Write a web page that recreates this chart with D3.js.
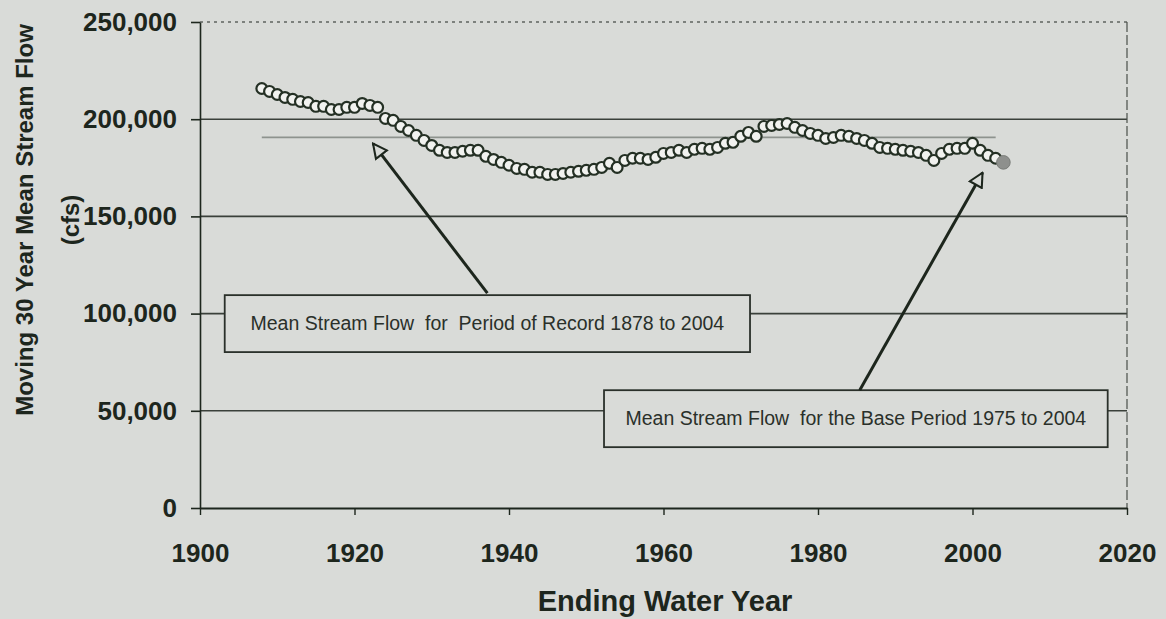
<!DOCTYPE html>
<html>
<head>
<meta charset="utf-8">
<script src="https://cdn.jsdelivr.net/npm/d3@7"></script>
<style>
  body { margin: 0; background: #d9dbd8; }
  svg { display: block; font-family: "Liberation Sans", Arial, sans-serif; }
</style>
</head>
<body>
<div id="chart"></div>
<script>
// Moving 30 year mean stream flow, one point per ending water year (1908-2003)
const years = d3.range(1908, 2004);
const flows = [
  215800, 214300, 212700, 211200, 210200, 209100, 208600, 206600, 206600, 205000,
  205000, 206100, 206100, 208100, 207100, 206100, 200400, 199400, 196300, 194200,
  191700, 189100, 186500, 184000, 182900, 182900, 183500, 184000, 184000, 180900,
  179300, 177800, 176300, 174700, 174200, 172700, 172700, 171600, 171600, 172100,
  172700, 173200, 173700, 174200, 175200, 177300, 175200, 178800, 179900, 179900,
  179300, 180400, 182400, 182900, 184000, 182900, 184500, 185000, 184500, 185500,
  187600, 188100, 191200, 193200, 191200, 196300, 196800, 197300, 197800, 195800,
  194200, 192700, 191700, 190100, 190600, 191700, 191200, 190100, 189100, 187600,
  185500, 185000, 184500, 184000, 183500, 182900, 181400, 178800, 182400, 184500,
  185000, 185000, 187600, 184000, 181400, 179900
];

// base period (1975-2004) point, drawn grey
const baseYear = 2004;
const baseFlow = 177800;

// mean for the period of record
const recordMean = 190600;
const recordSpan = [1908, 2003];

const xTicks = [1900, 1920, 1940, 1960, 1980, 2000, 2020];
const yTicks = [0, 50000, 100000, 150000, 200000, 250000];

// annotations in data units: box [x0, x1, yTop, yBottom], arrow [tailX, tailY, tipX, tipY]
const notes = [
  { text: "Mean Stream Flow  for  Period of Record 1878 to 2004",
    box: [1903.2, 1971.2, 109500, 80200], arrow: [1937.2, 110500, 1922.4, 187400] },
  { text: "Mean Stream Flow  for the Base Period 1975 to 2004",
    box: [1952.3, 2017.5, 60600, 31300], arrow: [1985.4, 60600, 2001.3, 172500] }
];

const margin = { top: 22, right: 39, bottom: 111, left: 200 },
      width = 1166 - margin.left - margin.right,
      height = 619 - margin.top - margin.bottom;

const ink = "#1d261d";
const bg = "#d9dbd8";

const svgRoot = d3.select("#chart").append("svg")
    .attr("width", 1166)
    .attr("height", 619);

svgRoot.append("rect")
    .attr("width", 1166)
    .attr("height", 619)
    .attr("fill", bg);

const defs = svgRoot.append("defs");
defs.append("marker")
    .attr("id", "head")
    .attr("viewBox", "0 0 12 12")
    .attr("refX", 11)
    .attr("refY", 6)
    .attr("markerWidth", 5.5)
    .attr("markerHeight", 5.5)
    .attr("markerUnits", "strokeWidth")
    .attr("orient", "auto")
  .append("path")
    .attr("d", "M1,1 L11,6 L1,11 Z")
    .attr("fill", bg)
    .attr("stroke", ink)
    .attr("stroke-width", 1.5)
    .attr("stroke-linejoin", "miter");

const svg = svgRoot.append("g")
    .attr("transform", `translate(${margin.left},${margin.top})`);

const x = d3.scaleLinear().domain([1900, 2020]).range([0, width]);
const y = d3.scaleLinear().domain([0, 250000]).range([height, 0]);

// gridlines
svg.append("g")
  .selectAll("line")
  .data(yTicks.filter(d => d > 0 && d < 250000))
  .join("line")
    .attr("x1", 0)
    .attr("x2", width)
    .attr("y1", d => y(d))
    .attr("y2", d => y(d))
    .attr("stroke", "#3a403a")
    .attr("stroke-width", 1.6);

// top and right frame
svg.append("line")
    .attr("x1", 0).attr("x2", width)
    .attr("y1", y(250000)).attr("y2", y(250000))
    .attr("stroke", "#5f645f")
    .attr("stroke-width", 1.3)
    .attr("stroke-dasharray", "3,4");
svg.append("line")
    .attr("x1", width).attr("x2", width)
    .attr("y1", y(250000)).attr("y2", y(0))
    .attr("stroke", "#4a4f4a")
    .attr("stroke-width", 1.2)
    .attr("stroke-dasharray", "10,3");

// mean of period of record
svg.append("line")
    .attr("x1", x(recordSpan[0]))
    .attr("x2", x(recordSpan[1]))
    .attr("y1", y(recordMean))
    .attr("y2", y(recordMean))
    .attr("stroke", "#8e938e")
    .attr("stroke-width", 1.8);

// annotation boxes
const note = svg.append("g").selectAll("g")
  .data(notes)
  .join("g");

note.append("rect")
    .attr("x", d => x(d.box[0]))
    .attr("y", d => y(d.box[2]))
    .attr("width", d => x(d.box[1]) - x(d.box[0]))
    .attr("height", d => y(d.box[3]) - y(d.box[2]))
    .attr("fill", bg)
    .attr("stroke", "#2a302a")
    .attr("stroke-width", 1.8);

note.append("text")
    .attr("x", d => (x(d.box[0]) + x(d.box[1])) / 2)
    .attr("y", d => (y(d.box[2]) + y(d.box[3])) / 2)
    .attr("dy", "0.35em")
    .attr("text-anchor", "middle")
    .attr("font-size", 19.5)
    .attr("fill", "#2a302a")
    .attr("xml:space", "preserve")
    .text(d => d.text);

// data points
svg.append("g")
  .selectAll("circle")
  .data(years.map((yr, i) => ({ year: yr, flow: flows[i] })))
  .join("circle")
    .attr("cx", d => x(d.year))
    .attr("cy", d => y(d.flow))
    .attr("r", 5.4)
    .attr("fill", "#f1f2ef")
    .attr("stroke", "#243024")
    .attr("stroke-width", 2.2);

svg.append("circle")
    .attr("cx", x(baseYear))
    .attr("cy", y(baseFlow))
    .attr("r", 6.8)
    .attr("fill", "#8e908d")
    .attr("stroke", "#7a7d79")
    .attr("stroke-width", 1);

// arrows
note.append("line")
    .attr("x1", d => x(d.arrow[0]))
    .attr("y1", d => y(d.arrow[1]))
    .attr("x2", d => x(d.arrow[2]))
    .attr("y2", d => y(d.arrow[3]))
    .attr("stroke", ink)
    .attr("stroke-width", 3)
    .attr("marker-end", "url(#head)");

// axes
const yAxis = svg.append("g")
    .call(d3.axisLeft(y).tickValues(yTicks).tickSize(9).tickSizeOuter(0).tickFormat(d3.format(",")));
yAxis.select(".domain").attr("stroke", ink).attr("stroke-width", 1.6);
yAxis.selectAll(".tick line").attr("stroke", ink).attr("stroke-width", 1.6);
yAxis.selectAll(".tick text")
    .attr("x", -23)
    .attr("fill", ink)
    .attr("font-size", 26)
    .attr("font-weight", "bold")
    .attr("font-family", "\"Liberation Sans\", Arial, sans-serif");

const xAxis = svg.append("g")
    .attr("transform", `translate(0,${height})`)
    .call(d3.axisBottom(x).tickValues(xTicks).tickSize(7).tickSizeOuter(0).tickFormat(d3.format("d")));
xAxis.select(".domain").attr("stroke", ink).attr("stroke-width", 2);
xAxis.selectAll(".tick line").attr("stroke", ink).attr("stroke-width", 1.4);
xAxis.selectAll(".tick text")
    .attr("y", 36)
    .attr("fill", ink)
    .attr("font-size", 26)
    .attr("font-weight", "bold")
    .attr("font-family", "\"Liberation Sans\", Arial, sans-serif");

// axis titles
svgRoot.append("text")
    .attr("transform", "translate(33,220) rotate(-90)")
    .attr("text-anchor", "middle")
    .attr("font-size", 24)
    .attr("font-weight", "bold")
    .attr("fill", ink)
    .text("Moving 30 Year Mean Stream Flow");

svgRoot.append("text")
    .attr("transform", "translate(79,220) rotate(-90)")
    .attr("text-anchor", "middle")
    .attr("font-size", 24)
    .attr("font-weight", "bold")
    .attr("fill", ink)
    .text("(cfs)");

svgRoot.append("text")
    .attr("x", 665)
    .attr("y", 611)
    .attr("text-anchor", "middle")
    .attr("font-size", 29)
    .attr("font-weight", "bold")
    .attr("fill", ink)
    .text("Ending Water Year");
</script>
</body>
</html>
